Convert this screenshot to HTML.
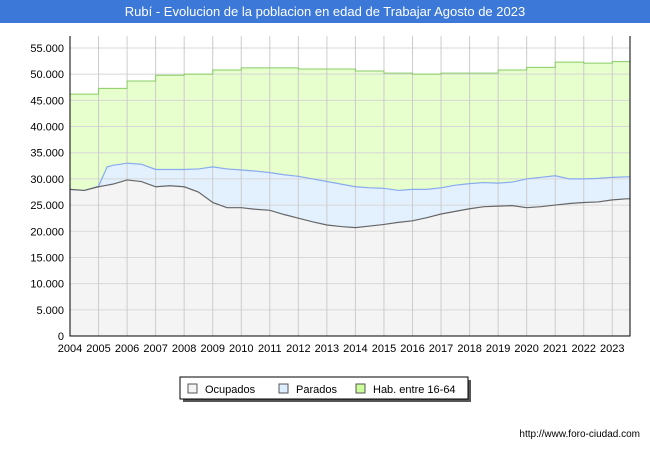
<!DOCTYPE html>
<html><head><meta charset="utf-8"><style>
body{margin:0;width:650px;height:450px;background:#fff;font-family:"Liberation Sans",sans-serif;overflow:hidden}
</style></head><body>
<svg id="c" width="650" height="450" xmlns="http://www.w3.org/2000/svg" font-family="Liberation Sans, sans-serif">
<rect x="0" y="0" width="650" height="23" fill="#3b78d8"/>
<text x="325" y="16" text-anchor="middle" font-size="13" fill="#fff">Rubí - Evolucion de la poblacion en edad de Trabajar Agosto de 2023</text>
<g id="plot"></g>
<g>
<rect x="183" y="380" width="288" height="22" fill="#555"/>
<rect x="180" y="377" width="288" height="22" fill="#fff" stroke="#000" stroke-width="1"/>
<rect x="188" y="384" width="9" height="9" fill="#f4f4f4" stroke="#555"/>
<text x="205" y="393" font-size="11">Ocupados</text>
<rect x="279" y="384" width="9" height="9" fill="#ddeeff" stroke="#555"/>
<text x="296" y="393" font-size="11">Parados</text>
<rect x="356" y="384" width="9" height="9" fill="#ccff99" stroke="#555"/>
<text x="373" y="393" font-size="11">Hab. entre 16-64</text>
</g>
<text x="640" y="437" text-anchor="end" font-size="10" fill="#000">http://www.foro-ciudad.com</text>
</svg>
<script>
const years=[2004,2005,2006,2007,2008,2009,2010,2011,2012,2013,2014,2015,2016,2017,2018,2019,2020,2021,2022,2023];
const habValues=[46200,47300,48700,49800,50000,50800,51200,51200,51000,51000,50600,50200,50000,50200,50200,50800,51300,52300,52100,52400];
const times=[2004,2004.5,2005,2005.3,2005.5,2006,2006.5,2007,2007.5,2008,2008.5,2009,2009.5,2010,2010.5,2011,2011.5,2012,2012.5,2013,2013.5,2014,2014.5,2015,2015.5,2016,2016.5,2017,2017.5,2018,2018.5,2019,2019.5,2020,2020.5,2021,2021.5,2022,2022.5,2023,2023.5];
const ocupados=[28000,27800,28500,28800,29000,29800,29500,28500,28700,28500,27500,25500,24500,24500,24200,24000,23200,22500,21800,21200,20900,20700,21000,21300,21700,22000,22600,23300,23800,24300,24700,24800,24900,24500,24700,25000,25300,25500,25600,26000,26200];
const activos=[28000,27800,28600,32300,32600,33000,32800,31800,31800,31800,31900,32300,31900,31700,31500,31200,30800,30500,30000,29500,29000,28500,28300,28200,27800,28000,28000,28300,28800,29100,29300,29200,29400,30000,30300,30600,30000,30000,30100,30300,30400];
const yTicks=[0,5000,10000,15000,20000,25000,30000,35000,40000,45000,50000,55000];
const yLabels=["0","5.000","10.000","15.000","20.000","25.000","30.000","35.000","40.000","45.000","50.000","55.000"];
const X0=70,X1=630,Y0=336,Y1=36,T0=2004,T1=2023.62;
const xs=t=>X0+(t-T0)/(T1-T0)*(X1-X0);
const ys=v=>Y0-v/55000*288;
const NS="http://www.w3.org/2000/svg";
const g=document.getElementById('plot');
function mk(tag,attrs){const e=document.createElementNS(NS,tag);for(const k in attrs)e.setAttribute(k,attrs[k]);g.appendChild(e);return e;}
let bg=mk('rect',{x:X0,y:Y1,width:X1-X0,height:Y0-Y1,fill:'#fff'});


let hp=`M${X0},${Y0}`;
years.forEach((y,i)=>{const x1=xs(y),x2=xs(i<years.length-1?years[i+1]:T1);hp+=` L${x1},${ys(habValues[i])} L${x2},${ys(habValues[i])}`;});
hp+=` L${X1},${Y0} Z`;
let ha=mk('path',{d:hp,fill:'#e6ffcc'});


function pts(arr){return times.map((t,i)=>`${xs(t)},${ys(arr[i])}`).concat([`${X1},${ys(arr[arr.length-1])}`]);}
let pa=mk('path',{d:`M${X0},${Y0} L${pts(activos).join(' L')} L${X1},${Y0} Z`,fill:'#e3f1ff'});


let oa=mk('path',{d:`M${X0},${Y0} L${pts(ocupados).join(' L')} L${X1},${Y0} Z`,fill:'#f4f4f4'});


yTicks.forEach((v,i)=>{
 let l=mk('line',{x1:X0,x2:X1,y1:ys(v),y2:ys(v),stroke:'#d8d8d8'});
 
 
 let t=mk('text',{x:X0-6,y:ys(v)+4,'text-anchor':'end','font-size':11});
 
 
 t.textContent=yLabels[i];
});
years.forEach(y=>{
 let l=mk('line',{x1:xs(y),x2:xs(y),y1:Y1,y2:Y0,stroke:'#cccccc'});
 
 
 let t=mk('text',{x:xs(y),y:Y0+16,'text-anchor':'middle','font-size':11});
 
 
 t.textContent=y;
});
let hl=mk('path',{d:hp.replace(/ L630,336 Z$/,''),fill:'none',stroke:'#88cc66','stroke-width':1});


let pl=mk('polyline',{points:pts(activos).join(' '),fill:'none',stroke:'#88aaee','stroke-width':1.2});


let ol=mk('polyline',{points:pts(ocupados).join(' '),fill:'none',stroke:'#666','stroke-width':1.2});


let fr=mk('path',{d:`M${X0},${Y1} L${X0},${Y0} L${X1},${Y0} L${X1},${Y1}`,fill:'none',stroke:'#000','stroke-width':1});


</script>
</body></html>
